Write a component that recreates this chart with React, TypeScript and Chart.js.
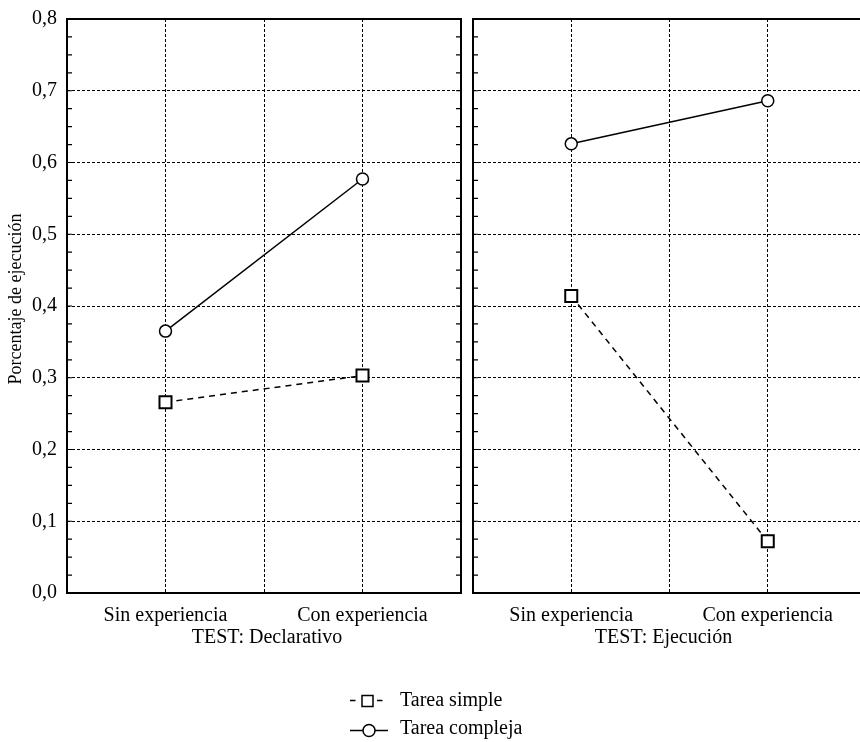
import { useEffect, useRef } from 'react';
import { Chart, registerables } from 'chart.js';
Chart.register(...registerables);

const categories = ['Sin experiencia', 'Con experiencia'];
const panelTitles = ['TEST: Declarativo', 'TEST: Ejecución'];
const seriesNames = ['Tarea simple', 'Tarea compleja'];
const simpleDeclarativo = [0.266, 0.303];
const complejaDeclarativo = [0.365, 0.577];
const simpleEjecucion = [0.414, 0.072];
const complejaEjecucion = [0.626, 0.686];
const yTickLabels = ['0,0', '0,1', '0,2', '0,3', '0,4', '0,5', '0,6', '0,7', '0,8'];
const yTitle = 'Porcentaje de ejecución';
const yMax = 0.8;

const FONT = "'Liberation Serif', 'Times New Roman', serif";
const xPos = (i: number) => i * 2 + 1;

// canvas offsets within the page (px)
const LEFT_TOP = -3;
const RIGHT_LEFT = 462;

const frameTicks = {
  id: 'frameTicks',
  afterDraw(chart: any) {
    const { ctx, chartArea: a, scales } = chart;
    const y = scales.y;
    const panel = chart.options.plugins.panelTitle;
    ctx.save();
    ctx.strokeStyle = '#000';
    ctx.lineWidth = 1.2;
    ctx.setLineDash([]);
    for (let i = 0; i <= 32; i++) {
      const py = y.getPixelForValue((i * yMax) / 32);
      ctx.beginPath();
      ctx.moveTo(a.left, py);
      ctx.lineTo(a.left + 5, py);
      ctx.moveTo(a.right, py);
      ctx.lineTo(a.right - 5, py);
      ctx.stroke();
    }
    ctx.lineWidth = 2;
    ctx.strokeRect(a.left, a.top, a.right - a.left, a.bottom - a.top);
    ctx.fillStyle = '#000';
    ctx.font = `20px ${FONT}`;
    ctx.textAlign = 'center';
    ctx.textBaseline = 'middle';
    ctx.fillText(panel.text, (a.left + a.right) / 2 + panel.shift, 638 - panel.dy);
    if (panel.yTitle) {
      ctx.save();
      ctx.translate(16, 299 - panel.dy);
      ctx.rotate(-Math.PI / 2);
      ctx.font = `18px ${FONT}`;
      ctx.fillText(yTitle, 0, 0);
      ctx.restore();
    }
    ctx.restore();
  },
};

const legendPlugin = {
  id: 'customLegend',
  afterDraw(chart: any) {
    const { ctx } = chart;
    const dy = -LEFT_TOP;
    ctx.save();
    ctx.strokeStyle = '#000';
    ctx.fillStyle = '#fff';
    ctx.lineWidth = 1.5;
    let cy = 700.5 + dy;
    ctx.setLineDash([]);
    ctx.beginPath();
    ctx.moveTo(350, cy);
    ctx.lineTo(355.5, cy);
    ctx.moveTo(377, cy);
    ctx.lineTo(382.5, cy);
    ctx.stroke();
    ctx.fillRect(362, cy - 5, 11, 11);
    ctx.strokeRect(362, cy - 5, 11, 11);
    cy = 730.5 + dy;
    ctx.beginPath();
    ctx.moveTo(350, cy);
    ctx.lineTo(388, cy);
    ctx.stroke();
    ctx.beginPath();
    ctx.arc(369, cy, 6, 0, Math.PI * 2);
    ctx.fill();
    ctx.stroke();
    ctx.fillStyle = '#000';
    ctx.font = `20px ${FONT}`;
    ctx.textBaseline = 'middle';
    ctx.textAlign = 'left';
    ctx.fillText(seriesNames[0], 400, 701 + dy);
    ctx.fillText(seriesNames[1], 400, 729 + dy);
    ctx.restore();
  },
};

function makeConfig(panel: number, simple: number[], compleja: number[], first: boolean) {
  const gridColor = (c: any) => {
    const v = c.tick ? c.tick.value : 0;
    return v <= 1e-6 || v >= 4 - 1e-6 ? 'rgba(0,0,0,0)' : '#000';
  };
  const yGridColor = (c: any) => {
    const v = c.tick ? c.tick.value : 0;
    return v <= 1e-6 || v >= yMax - 1e-6 ? 'rgba(0,0,0,0)' : '#000';
  };
  return {
    type: 'line',
    data: {
      datasets: [
        {
          label: seriesNames[0],
          data: simple.map((v, i) => ({ x: xPos(i), y: v })),
          borderColor: '#000',
          borderWidth: 1.5,
          borderDash: [6, 5],
          pointStyle: 'rect',
          pointRadius: 8.5,
          pointBorderWidth: 2,
          pointBackgroundColor: '#fff',
          pointBorderColor: '#000',
          fill: false,
        },
        {
          label: seriesNames[1],
          data: compleja.map((v, i) => ({ x: xPos(i), y: v })),
          borderColor: '#000',
          borderWidth: 1.5,
          pointStyle: 'circle',
          pointRadius: 6,
          pointBorderWidth: 1.5,
          pointBackgroundColor: '#fff',
          pointBorderColor: '#000',
          fill: false,
        },
      ],
    },
    options: {
      animation: false,
      responsive: false,
      events: [],
      layout: {
        padding: first
          ? { left: 0, right: 399, top: 16, bottom: 0 }
          : { left: 3, right: 20, top: 19, bottom: 0 },
      },
      plugins: {
        legend: { display: false },
        tooltip: { enabled: false },
        panelTitle: {
          text: panelTitles[panel],
          shift: first ? 3 : -6,
          yTitle: first,
          dy: first ? LEFT_TOP : 0,
        },
      },
      scales: {
        x: {
          type: 'linear',
          min: 0,
          max: 4,
          afterFit: (s: any) => {
            s.height = 149;
          },
          border: { display: false, dash: [3, 2] },
          grid: { color: gridColor, lineWidth: 1, drawTicks: false },
          ticks: {
            stepSize: 1,
            autoSkip: false,
            maxRotation: 0,
            padding: 11,
            color: '#000',
            font: { family: FONT, size: 20 },
            callback: (v: number) => {
              const idx = (v - 1) / 2;
              return Number.isInteger(idx) && categories[idx] ? categories[idx] : '';
            },
          },
          title: { display: false },
        },
        y: {
          type: 'linear',
          min: 0,
          max: yMax,
          afterFit: (s: any) => {
            s.width = first ? 67 : 0;
          },
          border: { display: false, dash: [3, 2] },
          grid: { color: yGridColor, lineWidth: 1, drawTicks: false },
          ticks: {
            display: first,
            stepSize: 0.1,
            padding: 10,
            color: '#000',
            font: { family: FONT, size: 20 },
            callback: (v: number) => yTickLabels[Math.round(v * 10)] ?? '',
          },
          title: { display: false },
        },
      },
    },
    plugins: first ? [frameTicks, legendPlugin] : [frameTicks],
  } as any;
}

export default function App() {
  const leftRef = useRef<HTMLCanvasElement>(null);
  const rightRef = useRef<HTMLCanvasElement>(null);
  useEffect(() => {
    const a = new Chart(leftRef.current as HTMLCanvasElement, makeConfig(0, simpleDeclarativo, complejaDeclarativo, true));
    const b = new Chart(rightRef.current as HTMLCanvasElement, makeConfig(1, simpleEjecucion, complejaEjecucion, false));
    return () => {
      a.destroy();
      b.destroy();
    };
  }, []);
  return (
    <div
      style={{
        position: 'fixed',
        left: 0,
        top: 0,
        width: 860,
        height: 742,
        overflow: 'hidden',
        background: '#fff',
      }}
    >
      <canvas
        ref={leftRef}
        width={860}
        height={745}
        style={{ position: 'absolute', left: 0, top: LEFT_TOP, width: 860, height: 745 }}
      />
      <canvas
        ref={rightRef}
        width={424}
        height={742}
        style={{ position: 'absolute', left: RIGHT_LEFT, top: 0, width: 424, height: 742 }}
      />
    </div>
  );
}
